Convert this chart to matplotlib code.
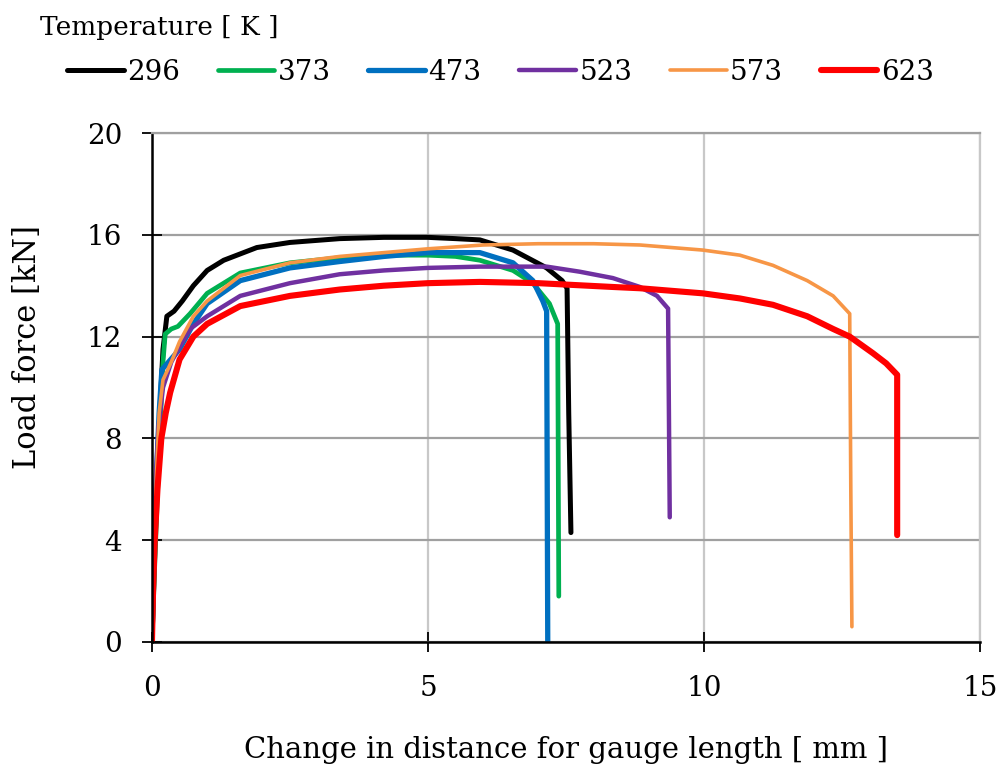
from __future__ import annotations

import matplotlib

matplotlib.use("Agg")
import matplotlib.pyplot as plt


OUT_PNG = "out.png"

# load-displacement curves, one pair of lists per temperature
X_296 = [0, 0.05, 0.12, 0.2, 0.27, 0.4, 0.55, 0.75, 1.0, 1.3, 1.9, 2.5, 3.4, 4.2, 5.0, 5.5,
         5.94, 6.54, 7.15, 7.43, 7.52, 7.55, 7.59]
Y_296 = [0, 3.5, 8, 11.5, 12.8, 13.0, 13.4, 14.0, 14.6, 15.0, 15.5, 15.7, 15.85, 15.9, 15.9, 15.85,
         15.8, 15.4, 14.7, 14.2, 13.9, 9.0, 4.3]

X_373 = [0, 0.05, 0.12, 0.2, 0.24, 0.35, 0.47, 0.69, 1.0, 1.6, 2.5, 3.4, 4.2, 5.0, 5.5,
         5.94, 6.54, 6.9, 7.2, 7.35, 7.37]
Y_373 = [0, 3, 7, 11, 12.1, 12.3, 12.4, 12.9, 13.7, 14.5, 14.9, 15.1, 15.2, 15.2, 15.15,
         15.0, 14.6, 14.1, 13.3, 12.5, 1.8]

X_473 = [0, 0.03, 0.08, 0.13, 0.18, 0.3, 0.5, 0.75, 1.0, 1.6, 2.5, 3.4, 4.2, 5.0, 5.5,
         5.94, 6.54, 6.9, 7.08, 7.15, 7.17]
Y_473 = [0, 3, 6.5, 9, 10.7, 11.0, 11.5, 12.5, 13.3, 14.2, 14.7, 14.95, 15.15, 15.3, 15.3,
         15.3, 14.9, 14.2, 13.4, 13.0, 0]

X_523 = [0, 0.02, 0.06, 0.12, 0.2, 0.35, 0.5, 0.69, 1.0, 1.6, 2.5, 3.4, 4.2, 5.0, 5.94,
         7.15, 7.75, 8.35, 8.84, 9.15, 9.35, 9.38]
Y_523 = [0, 3, 6, 8.5, 10, 11.0, 11.6, 12.3, 12.8, 13.6, 14.1, 14.45, 14.6, 14.7, 14.75,
         14.75, 14.55, 14.3, 13.95, 13.6, 13.1, 4.9]

X_573 = [0, 0.03, 0.08, 0.13, 0.2, 0.35, 0.5, 0.75, 1.0, 1.6, 2.5, 3.4, 4.2, 5.0, 6.0, 7.0,
         8.0, 8.84, 9.98, 10.65, 11.25, 11.87, 12.34, 12.64, 12.66, 12.68]
Y_573 = [0, 3, 6.5, 9, 10.3, 11.0, 11.8, 12.8, 13.4, 14.4, 14.9, 15.15, 15.3, 15.45, 15.6, 15.65,
         15.65, 15.6, 15.4, 15.2, 14.8, 14.2, 13.6, 12.9, 6.0, 0.6]

X_623 = [0, 0.02, 0.05, 0.1, 0.17, 0.25, 0.33, 0.5, 0.75, 1.0, 1.6, 2.5, 3.4, 4.2, 5.0, 5.94,
         7.0, 8.35, 8.84, 9.98, 10.65, 11.25, 11.87, 12.34, 12.64, 13.06, 13.3, 13.5, 13.5]
Y_623 = [0, 2, 4, 6, 8, 9, 9.8, 11.1, 12.0, 12.5, 13.2, 13.6, 13.85, 14.0, 14.1, 14.15,
         14.1, 13.95, 13.9, 13.7, 13.5, 13.25, 12.8, 12.3, 12.0, 11.35, 10.95, 10.5, 4.2]

LABELS = ["296", "373", "473", "523", "573", "623"]
X_TICKS = [0, 5, 10, 15]
Y_TICKS = [0, 4, 8, 12, 16, 20]

SERIES = [
    (LABELS[0], X_296, Y_296, "#000000", 3.6),
    (LABELS[1], X_373, Y_373, "#00b050", 3.4),
    (LABELS[2], X_473, Y_473, "#0070c0", 3.8),
    (LABELS[3], X_523, Y_523, "#7030a0", 3.2),
    (LABELS[4], X_573, Y_573, "#f79646", 2.6),
    (LABELS[5], X_623, Y_623, "#ff0000", 4.4),
]

FONT = 20


def plot() -> None:
    plt.rcParams["font.family"] = ["DejaVu Serif"]
    plt.rcParams["font.size"] = FONT

    fig = plt.figure(figsize=(10.01, 7.72), dpi=100)
    ax = fig.add_axes([0.1518, 0.1684, 0.8272, 0.6593])

    for label, xs, ys, color, lw in SERIES:
        ax.plot(xs, ys, color=color, linewidth=lw, label=label,
                solid_capstyle="round", solid_joinstyle="round")

    ax.set_xlim(0, 15)
    ax.set_ylim(0, 20)
    ax.set_xticks(X_TICKS)
    ax.set_yticks(Y_TICKS)

    ax.grid(axis="y", color="#a0a0a0", linewidth=1.6, zorder=0)
    ax.grid(axis="x", color="#c8c8c8", linewidth=1.6, zorder=0)
    ax.set_axisbelow(True)

    for side in ("left", "bottom"):
        ax.spines[side].set_linewidth(1.8)
        ax.spines[side].set_color("black")
    ax.spines["top"].set_color("#a0a0a0")
    ax.spines["top"].set_linewidth(1.6)
    ax.spines["right"].set_color("#c8c8c8")
    ax.spines["right"].set_linewidth(1.6)

    ax.tick_params(axis="both", direction="inout", length=14, width=1.3,
                   labelsize=FONT, top=False, right=False)
    ax.tick_params(axis="y", pad=14.5)
    ax.tick_params(axis="x", pad=16.5)

    ax.set_xlabel("Change in distance for gauge length [ mm ]", fontsize=21, va="center")
    ax.xaxis.set_label_coords(0.5, (642 - 750) / 509)
    ax.set_ylabel("Load force [kN]", fontsize=22, va="center")
    ax.yaxis.set_label_coords((28 - 152) / 828, (642 - 347) / 509)

    fig.text(40 / 1001, 1 - 27 / 772, "Temperature [ K ]", fontsize=FONT - 1,
             ha="left", va="center")
    fig.legend(
        loc="center left",
        bbox_to_anchor=(53 / 1001, 1 - 72 / 772),
        ncol=6,
        frameon=False,
        fontsize=FONT,
        handlelength=2.05,
        handletextpad=0.12,
        columnspacing=1.35,
        borderpad=0,
    )

    fig.savefig(OUT_PNG, dpi=100)
    plt.close(fig)


def main() -> None:
    plot()


if __name__ == "__main__":
    main()
